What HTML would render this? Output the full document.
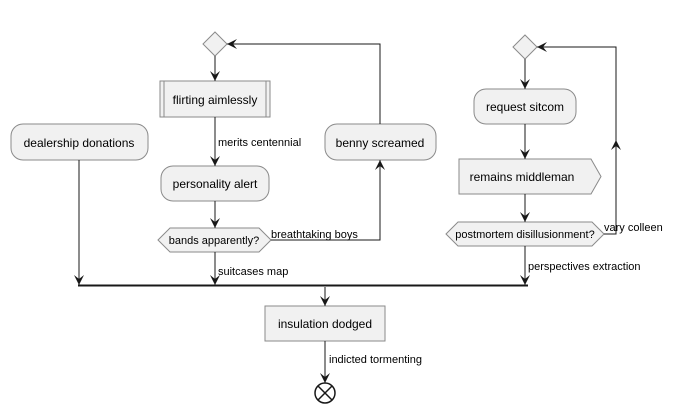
<!DOCTYPE html>
<html><head><meta charset="utf-8"><style>
html,body{margin:0;padding:0;background:#fff;}
svg{display:block;font-family:"Liberation Sans",sans-serif;}
</style></head><body>
<svg width="674" height="413" viewBox="0 0 674 413" xmlns="http://www.w3.org/2000/svg">
<g fill="#F1F1F1" stroke="#8a8a8a" stroke-width="1">
<polygon points="215,32 227,44 215,56 203,44"/>
<rect x="160" y="81" width="110" height="36"/>
<line x1="164" y1="81" x2="164" y2="117"/><line x1="266" y1="81" x2="266" y2="117"/>
<rect x="161" y="166" width="108" height="35" rx="12"/>
<polygon points="158,240 170,228 259,228 271,240 259,252 170,252"/>
<rect x="325" y="124" width="111" height="36" rx="12"/>
<rect x="11" y="124" width="137" height="36" rx="12"/>
<polygon points="525,35 537,47 525,59 513,47"/>
<rect x="474" y="89" width="102" height="35" rx="12"/>
<polygon points="459,159 591,159 601,176.5 591,194 459,194"/>
<polygon points="446,234 458,222 592,222 604,234 592,246 458,246"/>
<rect x="265" y="306" width="120" height="35"/>
</g>
<g stroke="#181818" stroke-width="1" fill="none">
<line x1="215" y1="56" x2="215" y2="81"/>
<line x1="215" y1="117" x2="215" y2="166"/>
<line x1="215" y1="201" x2="215" y2="228"/>
<line x1="215" y1="252" x2="215" y2="285"/>
<polyline points="271,240 380,240 380,160"/>
<polyline points="380,124 380,44 227,44"/>
<line x1="79" y1="160" x2="79" y2="285"/>
<line x1="525" y1="59" x2="525" y2="89"/>
<line x1="525" y1="124" x2="525" y2="159"/>
<line x1="525" y1="194" x2="525" y2="222"/>
<line x1="525" y1="246" x2="525" y2="285"/>
<polyline points="604,234 616,234 616,47 537,47"/>
<line x1="325" y1="287" x2="325" y2="306"/>
<line x1="325" y1="341" x2="325" y2="383"/>
<circle cx="325" cy="393" r="10" stroke-width="1.5"/>
<line x1="318" y1="386" x2="332" y2="400" stroke-width="1.5"/>
<line x1="332" y1="386" x2="318" y2="400" stroke-width="1.5"/>
</g>
<rect x="78" y="284.5" width="450" height="2" fill="#181818"/>
<g fill="#181818">
<polygon points="210,71 215,81 220,71 215,75"/>
<polygon points="210,156 215,166 220,156 215,160"/>
<polygon points="210,218 215,228 220,218 215,222"/>
<polygon points="210,275 215,285 220,275 215,279"/>
<polygon points="74,275 79,285 84,275 79,279"/>
<polygon points="375,170 380,160 385,170 380,166"/>
<polygon points="237,39 227,44 237,49 233,44"/>
<polygon points="520,79 525,89 530,79 525,83"/>
<polygon points="520,149 525,159 530,149 525,153"/>
<polygon points="520,212 525,222 530,212 525,216"/>
<polygon points="520,275 525,285 530,275 525,279"/>
<polygon points="611,150 616,140 621,150 616,146"/>
<polygon points="547,42 537,47 547,52 543,47"/>
<polygon points="320,296 325,306 330,296 325,300"/>
<polygon points="320,373 325,383 330,373 325,377"/>
</g>
<g font-size="12" fill="#000">
<text x="215" y="104" text-anchor="middle">flirting aimlessly</text>
<text x="215" y="188" text-anchor="middle">personality alert</text>
<text x="380" y="147" text-anchor="middle">benny screamed</text>
<text x="79" y="147" text-anchor="middle">dealership donations</text>
<text x="525" y="111" text-anchor="middle">request sitcom</text>
<text x="522" y="181" text-anchor="middle">remains middleman</text>
<text x="325" y="328" text-anchor="middle">insulation dodged</text>
</g>
<g font-size="11" fill="#000">
<text x="214" y="244" text-anchor="middle">bands apparently?</text>
<text x="525" y="238" text-anchor="middle">postmortem disillusionment?</text>
<text x="218" y="146">merits centennial</text>
<text x="271" y="238">breathtaking boys</text>
<text x="218" y="275">suitcases map</text>
<text x="528" y="270">perspectives extraction</text>
<text x="604" y="231">vary colleen</text>
<text x="329" y="363">indicted tormenting</text>
</g>
</svg>
</body></html>
